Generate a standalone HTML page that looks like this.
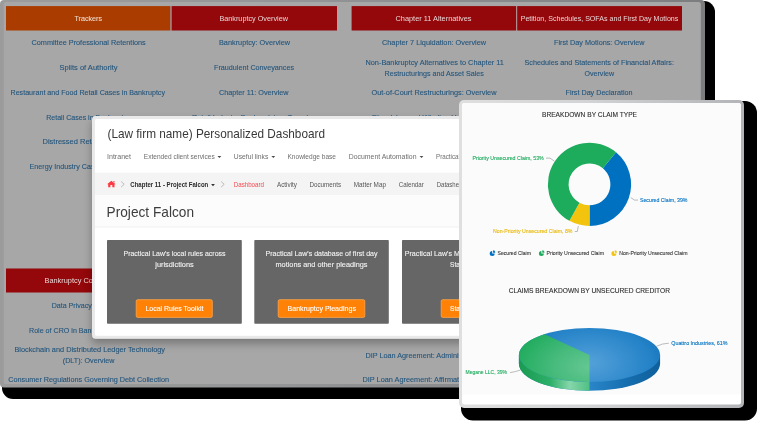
<!DOCTYPE html>
<html lang="en">
<head>
<meta charset="utf-8">
<title>Personalized Dashboard</title>
<style>
html,body{margin:0;padding:0;background:#fff;}
body{width:768px;height:432px;position:relative;overflow:hidden;font-family:"Liberation Sans", sans-serif;}
.layer{position:absolute;left:0;top:0;width:768px;height:432px;overflow:hidden;}
.layer svg{position:absolute;left:0;top:0;overflow:visible;font-family:"Liberation Sans", sans-serif;will-change:transform;}
svg text{white-space:pre;}
</style>
</head>
<body>
<!-- ============ back panel : practice-area resource tables ============ -->
<div class="layer" id="resources">
<svg width="768" height="432" viewBox="0 0 768 432">
<defs><linearGradient id="bkBorder" x1="0" y1="0" x2="1" y2="0">
<stop offset="0" stop-color="#9b9b9b"/><stop offset="0.4" stop-color="#949596"/><stop offset="1" stop-color="#7b7d7e"/></linearGradient></defs>
<rect x="2.00" y="1.00" width="713.00" height="398.00" rx="11" fill="#000"/>
<rect x="0.00" y="0.00" width="705.00" height="387.50" rx="4" fill="url(#bkBorder)"/>
<rect x="3.70" y="2.00" width="697.10" height="382.00" rx="2" fill="#a7a7a7"/>
<rect x="6.00" y="6.10" width="164.20" height="24.40" fill="#aa3c00"/>
<rect x="170.20" y="6.10" width="1.60" height="24.40" fill="#a9746a"/>
<rect x="171.80" y="6.10" width="165.20" height="24.40" fill="#94070a"/>
<rect x="351.60" y="6.10" width="164.40" height="24.40" fill="#94070a"/>
<rect x="516.00" y="6.10" width="1.20" height="24.40" fill="#b08c8c"/>
<rect x="517.20" y="6.10" width="164.80" height="24.40" fill="#94070a"/>
<rect x="6.00" y="268.50" width="165.00" height="24.00" fill="#94070a"/>
<rect x="171.80" y="268.50" width="165.20" height="24.00" fill="#94070a"/>
<rect x="351.60" y="268.50" width="164.40" height="24.00" fill="#94070a"/>
<text x="74.50" y="20.58" font-size="8" fill="#ecd8c8" font-weight="400" textLength="27.50" lengthAdjust="spacingAndGlyphs" stroke="#ecd8c8" stroke-width="0.1">Trackers</text>
<text x="219.40" y="20.58" font-size="8" fill="#e9d6d6" font-weight="400" textLength="68.60" lengthAdjust="spacingAndGlyphs">Bankruptcy Overview</text>
<text x="395.50" y="20.58" font-size="8" fill="#e9d6d6" font-weight="400" textLength="76.00" lengthAdjust="spacingAndGlyphs">Chapter 11 Alternatives</text>
<text x="520.70" y="20.58" font-size="8" fill="#e9d6d6" font-weight="400" textLength="157.60" lengthAdjust="spacingAndGlyphs">Petition, Schedules, SOFAs and First Day Motions</text>
<text x="31.50" y="45.38" font-size="8" fill="#22557c" font-weight="400" textLength="114.25" lengthAdjust="spacingAndGlyphs" stroke="#22557c" stroke-width="0.1">Committee Professional Retentions</text>
<text x="59.50" y="70.38" font-size="8" fill="#22557c" font-weight="400" textLength="58.00" lengthAdjust="spacingAndGlyphs" stroke="#22557c" stroke-width="0.1">Splits of Authority</text>
<text x="10.50" y="94.88" font-size="8" fill="#22557c" font-weight="400" textLength="154.50" lengthAdjust="spacingAndGlyphs" stroke="#22557c" stroke-width="0.1">Restaurant and Food Retail Cases in Bankruptcy</text>
<text x="46.25" y="119.63" font-size="8" fill="#22557c" font-weight="400" textLength="84.50" lengthAdjust="spacingAndGlyphs" stroke="#22557c" stroke-width="0.1">Retail Cases in Bankruptcy</text>
<text x="42.50" y="144.13" font-size="8" fill="#22557c" font-weight="400" textLength="92.00" lengthAdjust="spacingAndGlyphs" stroke="#22557c" stroke-width="0.1">Distressed Retail: Overview</text>
<text x="29.50" y="169.13" font-size="8" fill="#22557c" font-weight="400" textLength="118.00" lengthAdjust="spacingAndGlyphs" stroke="#22557c" stroke-width="0.1">Energy Industry Cases in Bankruptcy</text>
<text x="219.00" y="45.38" font-size="8" fill="#22557c" font-weight="400" textLength="71.00" lengthAdjust="spacingAndGlyphs" stroke="#22557c" stroke-width="0.1">Bankruptcy: Overview</text>
<text x="214.00" y="70.38" font-size="8" fill="#22557c" font-weight="400" textLength="80.00" lengthAdjust="spacingAndGlyphs" stroke="#22557c" stroke-width="0.1">Fraudulent Conveyances</text>
<text x="219.00" y="94.88" font-size="8" fill="#22557c" font-weight="400" textLength="69.50" lengthAdjust="spacingAndGlyphs" stroke="#22557c" stroke-width="0.1">Chapter 11: Overview</text>
<text x="192.00" y="119.63" font-size="8" fill="#22557c" font-weight="400" textLength="125.50" lengthAdjust="spacingAndGlyphs" stroke="#22557c" stroke-width="0.1">Retail Industry Bankruptcies: Overview</text>
<text x="382.00" y="45.38" font-size="8" fill="#22557c" font-weight="400" textLength="104.00" lengthAdjust="spacingAndGlyphs" stroke="#22557c" stroke-width="0.1">Chapter 7 Liquidation: Overview</text>
<text x="365.50" y="65.08" font-size="8" fill="#22557c" font-weight="400" textLength="138.30" lengthAdjust="spacingAndGlyphs" stroke="#22557c" stroke-width="0.1">Non-Bankruptcy Alternatives to Chapter 11</text>
<text x="384.50" y="75.78" font-size="8" fill="#22557c" font-weight="400" textLength="99.30" lengthAdjust="spacingAndGlyphs" stroke="#22557c" stroke-width="0.1">Restructurings and Asset Sales</text>
<text x="371.50" y="94.88" font-size="8" fill="#22557c" font-weight="400" textLength="125.00" lengthAdjust="spacingAndGlyphs" stroke="#22557c" stroke-width="0.1">Out-of-Court Restructurings: Overview</text>
<text x="372.00" y="119.63" font-size="8" fill="#22557c" font-weight="400" textLength="124.00" lengthAdjust="spacingAndGlyphs" stroke="#22557c" stroke-width="0.1">Dissolving and Winding Up: Overview</text>
<text x="554.00" y="45.38" font-size="8" fill="#22557c" font-weight="400" textLength="90.50" lengthAdjust="spacingAndGlyphs" stroke="#22557c" stroke-width="0.1">First Day Motions: Overview</text>
<text x="524.50" y="65.08" font-size="8" fill="#22557c" font-weight="400" textLength="149.50" lengthAdjust="spacingAndGlyphs" stroke="#22557c" stroke-width="0.1">Schedules and Statements of Financial Affairs:</text>
<text x="584.50" y="75.78" font-size="8" fill="#22557c" font-weight="400" textLength="29.50" lengthAdjust="spacingAndGlyphs" stroke="#22557c" stroke-width="0.1">Overview</text>
<text x="565.50" y="94.88" font-size="8" fill="#22557c" font-weight="400" textLength="67.00" lengthAdjust="spacingAndGlyphs" stroke="#22557c" stroke-width="0.1">First Day Declaration</text>
<text x="44.50" y="283.38" font-size="8" fill="#e9d6d6" font-weight="400" textLength="88.00" lengthAdjust="spacingAndGlyphs">Bankruptcy Considerations</text>
<text x="51.70" y="308.38" font-size="8" fill="#22557c" font-weight="400" textLength="73.60" lengthAdjust="spacingAndGlyphs" stroke="#22557c" stroke-width="0.1">Data Privacy: Overview</text>
<text x="29.00" y="332.88" font-size="8" fill="#22557c" font-weight="400" textLength="119.00" lengthAdjust="spacingAndGlyphs" stroke="#22557c" stroke-width="0.1">Role of CRO in Bankruptcy: Overview</text>
<text x="14.40" y="351.88" font-size="8" fill="#22557c" font-weight="400" textLength="150.60" lengthAdjust="spacingAndGlyphs" stroke="#22557c" stroke-width="0.1">Blockchain and Distributed Ledger Technology</text>
<text x="62.80" y="363.38" font-size="8" fill="#22557c" font-weight="400" textLength="51.60" lengthAdjust="spacingAndGlyphs" stroke="#22557c" stroke-width="0.1">(DLT): Overview</text>
<text x="8.30" y="382.18" font-size="8" fill="#22557c" font-weight="400" textLength="160.70" lengthAdjust="spacingAndGlyphs" stroke="#22557c" stroke-width="0.1">Consumer Regulations Governing Debt Collection</text>
<text x="365.50" y="358.13" font-size="8" fill="#22557c" font-weight="400" textLength="137.00" lengthAdjust="spacingAndGlyphs" stroke="#22557c" stroke-width="0.1">DIP Loan Agreement: Administrative Agent</text>
<text x="362.50" y="382.38" font-size="8" fill="#22557c" font-weight="400" textLength="143.00" lengthAdjust="spacingAndGlyphs" stroke="#22557c" stroke-width="0.1">DIP Loan Agreement: Affirmative Covenants</text>
</svg>
</div>
<!-- ============ middle panel : personalized dashboard ============ -->
<div class="layer" id="dashboard">
<svg width="768" height="432" viewBox="0 0 768 432">
<defs><filter id="dshadow" x="-10%" y="-10%" width="120%" height="130%">
<feGaussianBlur in="SourceAlpha" stdDeviation="4.5"/><feOffset dx="0" dy="4.5"/>
<feComponentTransfer><feFuncA type="linear" slope="0.28"/></feComponentTransfer>
<feMerge><feMergeNode/><feMergeNode in="SourceGraphic"/></feMerge></filter></defs>
<rect x="92.00" y="116.00" width="400.00" height="222.80" rx="4" fill="#e9e9e9" filter="url(#dshadow)"/>
<rect x="95.00" y="119.00" width="397.00" height="216.80" rx="1.5" fill="#fff"/>
<rect x="95.00" y="172.60" width="397.00" height="22.60" fill="#f4f4f4"/>
<rect x="95.00" y="195.20" width="397.00" height="31.40" fill="#fcfcfc"/>
<rect x="95.00" y="226.60" width="397.00" height="0.80" fill="#ececec"/>
<rect x="107.00" y="240.00" width="134.80" height="83.80" rx="0.8" fill="#666666"/>
<rect x="254.30" y="240.00" width="134.50" height="83.80" rx="0.8" fill="#666666"/>
<rect x="402.00" y="240.00" width="134.00" height="83.80" rx="0.8" fill="#666666"/>
<rect x="136.20" y="299.70" width="76.10" height="17.70" rx="1.5" fill="#ff8207" stroke="#ffa54a" stroke-width="0.8"/>
<rect x="278.20" y="299.70" width="86.60" height="17.70" rx="1.5" fill="#ff8207" stroke="#ffa54a" stroke-width="0.8"/>
<rect x="441.20" y="299.70" width="79.80" height="17.70" rx="1.5" fill="#ff8207" stroke="#ffa54a" stroke-width="0.8"/>
<text x="107.50" y="137.86" font-size="12.1" fill="#383838" font-weight="400" textLength="217.50" lengthAdjust="spacingAndGlyphs">(Law firm name) Personalized Dashboard</text>
<text x="107.00" y="158.88" font-size="6.6" fill="#6e6e6e" font-weight="400" textLength="24.00" lengthAdjust="spacingAndGlyphs">Intranet</text>
<text x="143.80" y="158.88" font-size="6.6" fill="#6e6e6e" font-weight="400" textLength="70.90" lengthAdjust="spacingAndGlyphs">Extended client services</text>
<text x="233.75" y="158.88" font-size="6.6" fill="#6e6e6e" font-weight="400" textLength="34.55" lengthAdjust="spacingAndGlyphs">Useful links</text>
<text x="287.50" y="158.88" font-size="6.6" fill="#6e6e6e" font-weight="400" textLength="48.50" lengthAdjust="spacingAndGlyphs">Knowledge base</text>
<text x="348.75" y="158.88" font-size="6.6" fill="#6e6e6e" font-weight="400" textLength="67.75" lengthAdjust="spacingAndGlyphs">Document Automation</text>
<text x="436.00" y="158.88" font-size="6.6" fill="#6e6e6e" font-weight="400" textLength="37.00" lengthAdjust="spacingAndGlyphs">Practical Law</text>
<text x="130.30" y="186.98" font-size="6.6" fill="#2b2b2b" font-weight="700" textLength="78.00" lengthAdjust="spacingAndGlyphs">Chapter 11 - Project Falcon</text>
<text x="233.75" y="186.98" font-size="6.6" fill="#f44a50" font-weight="400" textLength="30.25" lengthAdjust="spacingAndGlyphs">Dashboard</text>
<text x="277.00" y="186.98" font-size="6.6" fill="#555" font-weight="400" textLength="20.00" lengthAdjust="spacingAndGlyphs">Activity</text>
<text x="309.50" y="186.98" font-size="6.6" fill="#555" font-weight="400" textLength="31.50" lengthAdjust="spacingAndGlyphs">Documents</text>
<text x="353.75" y="186.98" font-size="6.6" fill="#555" font-weight="400" textLength="32.25" lengthAdjust="spacingAndGlyphs">Matter Map</text>
<text x="398.75" y="186.98" font-size="6.6" fill="#555" font-weight="400" textLength="25.00" lengthAdjust="spacingAndGlyphs">Calendar</text>
<text x="436.75" y="186.98" font-size="6.6" fill="#555" font-weight="400" textLength="27.25" lengthAdjust="spacingAndGlyphs">Datasheet</text>
<text x="106.60" y="217.25" font-size="14.3" fill="#3d3d3d" font-weight="400" textLength="87.40" lengthAdjust="spacingAndGlyphs">Project Falcon</text>
<text x="123.50" y="256.32" font-size="7" fill="#f4f4f4" font-weight="400" textLength="102.00" lengthAdjust="spacingAndGlyphs" stroke="#f4f4f4" stroke-width="0.1">Practical Law's local rules across</text>
<text x="155.25" y="266.77" font-size="7" fill="#f4f4f4" font-weight="400" textLength="38.50" lengthAdjust="spacingAndGlyphs" stroke="#f4f4f4" stroke-width="0.1">jurisdictions</text>
<text x="265.50" y="256.32" font-size="7" fill="#f4f4f4" font-weight="400" textLength="112.00" lengthAdjust="spacingAndGlyphs" stroke="#f4f4f4" stroke-width="0.1">Practical Law's database of first day</text>
<text x="275.50" y="266.77" font-size="7" fill="#f4f4f4" font-weight="400" textLength="92.00" lengthAdjust="spacingAndGlyphs" stroke="#f4f4f4" stroke-width="0.1">motions and other pleadings</text>
<text x="404.75" y="256.32" font-size="7" fill="#f4f4f4" font-weight="400" textLength="68.65" lengthAdjust="spacingAndGlyphs" stroke="#f4f4f4" stroke-width="0.1">Practical Law's Model</text>
<text x="450.00" y="266.77" font-size="7" fill="#f4f4f4" font-weight="400" textLength="62.00" lengthAdjust="spacingAndGlyphs" stroke="#f4f4f4" stroke-width="0.1">Standard Documents</text>
<text x="145.40" y="311.12" font-size="7" fill="#fff" font-weight="400" textLength="58.00" lengthAdjust="spacingAndGlyphs" stroke="#fff" stroke-width="0.1">Local Rules Toolkit</text>
<text x="287.50" y="311.12" font-size="7" fill="#fff" font-weight="400" textLength="68.50" lengthAdjust="spacingAndGlyphs" stroke="#fff" stroke-width="0.1">Bankruptcy Pleadings</text>
<text x="450.00" y="311.12" font-size="7" fill="#fff" font-weight="400" textLength="62.00" lengthAdjust="spacingAndGlyphs" stroke="#fff" stroke-width="0.1">Standard Documents</text>
<path d="M217.50 156.00h3.8l-1.9 2.1z" fill="#4a4a4a"/>
<path d="M271.40 156.00h3.8l-1.9 2.1z" fill="#4a4a4a"/>
<path d="M419.60 156.00h3.8l-1.9 2.1z" fill="#4a4a4a"/>
<path d="M211.10 184.10h3.8l-1.9 2.1z" fill="#333"/>
<path d="M121.10 181.50l3.1 2.8l-3.1 2.8" fill="none" stroke="#b4b4b4" stroke-width="0.9"/>
<path d="M221.10 181.50l3.1 2.8l-3.1 2.8" fill="none" stroke="#b4b4b4" stroke-width="0.9"/>
<path d="M111.35 180.7 L115.6 184.3 L114.5 184.3 L114.5 187.2 L112.3 187.2 L112.3 185.1 L110.4 185.1 L110.4 187.2 L108.2 187.2 L108.2 184.3 L107.1 184.3 Z M113.4 181.1 h1.1 v1.7 l-1.1 -0.95z" fill="#fb3a44"/>
</svg>
</div>
<!-- ============ front panel : claim charts ============ -->
<div class="layer" id="charts">
<svg width="768" height="432" viewBox="0 0 768 432">
<defs>
<radialGradient id="topB" gradientUnits="userSpaceOnUse" cx="589.5" cy="363" r="79.072" gradientTransform="translate(0 363) scale(1 0.6) translate(0 -363)">
<stop offset="0" stop-color="#54a1d9"/><stop offset="0.4" stop-color="#3b91d0"/><stop offset="0.78" stop-color="#2482c7"/><stop offset="1" stop-color="#1675bc"/></radialGradient>
<radialGradient id="topG" gradientUnits="userSpaceOnUse" cx="589.5" cy="367" r="77.66" gradientTransform="translate(0 367) scale(1 0.6) translate(0 -367)">
<stop offset="0" stop-color="#64c792"/><stop offset="0.45" stop-color="#48bb7d"/><stop offset="0.8" stop-color="#2db168"/><stop offset="1" stop-color="#1fab5d"/></radialGradient>
<linearGradient id="sideB" gradientUnits="userSpaceOnUse" x1="589.5" y1="0" x2="660.1" y2="0">
<stop offset="0" stop-color="#2a86c9"/><stop offset="0.5" stop-color="#166fb0"/><stop offset="1" stop-color="#0f5f9a"/></linearGradient>
<linearGradient id="sideG" gradientUnits="userSpaceOnUse" x1="518.9" y1="0" x2="589.5" y2="0">
<stop offset="0" stop-color="#189a50"/><stop offset="0.45" stop-color="#2fb06a"/><stop offset="0.72" stop-color="#86d6aa"/><stop offset="1" stop-color="#4fc083"/></linearGradient>
<linearGradient id="chBorder" x1="0" y1="0" x2="1" y2="0">
<stop offset="0" stop-color="#dfdfdf"/><stop offset="0.45" stop-color="#d2d3d4"/><stop offset="1" stop-color="#b2b4b7"/></linearGradient>
</defs>
<rect x="461.00" y="101.00" width="296.00" height="319.50" rx="12" fill="#000"/>
<rect x="459.00" y="100.00" width="285.00" height="308.00" rx="5" fill="url(#chBorder)"/>
<rect x="462.00" y="103.00" width="279.00" height="301.60" rx="2.5" fill="#fff"/>
<path d="M464.5 103H738.5A2.5 2.5 0 0 1 741 105.5V394.6H462V105.5A2.5 2.5 0 0 1 464.5 103Z" fill="#fbfbfb"/>
<text x="542.00" y="117.06" font-size="7.4" fill="#2e2e2e" font-weight="400" textLength="95.00" lengthAdjust="spacingAndGlyphs" stroke="#2e2e2e" stroke-width="0.12">BREAKDOWN BY CLAIM TYPE</text>
<text x="508.75" y="293.36" font-size="7.4" fill="#2e2e2e" font-weight="400" textLength="161.25" lengthAdjust="spacingAndGlyphs" stroke="#2e2e2e" stroke-width="0.12">CLAIMS BREAKDOWN BY UNSECURED CREDITOR</text>
<path d="M616.02 152.35A41.6 41.6 0 0 1 589.50 226.00L589.50 205.30A20.9 20.9 0 0 0 602.82 168.30Z" fill="#0071c1"/>
<path d="M589.50 226.00A41.6 41.6 0 0 1 569.46 220.85L579.43 202.71A20.9 20.9 0 0 0 589.50 205.30Z" fill="#f2c40e"/>
<path d="M569.46 220.85A41.6 41.6 0 1 1 616.02 152.35L602.82 168.30A20.9 20.9 0 1 0 579.43 202.71Z" fill="#1dab5c"/>
<text x="472.50" y="160.09" font-size="5.8" fill="#1dab5c" font-weight="400" textLength="71.20" lengthAdjust="spacingAndGlyphs" stroke="#1dab5c" stroke-width="0.12">Priority Unsecured Claim, 53%</text>
<text x="640.00" y="202.09" font-size="5.8" fill="#0071c1" font-weight="400" textLength="47.50" lengthAdjust="spacingAndGlyphs" stroke="#0071c1" stroke-width="0.12">Secured Claim, 39%</text>
<text x="493.00" y="233.39" font-size="5.8" fill="#e9b90a" font-weight="400" textLength="79.50" lengthAdjust="spacingAndGlyphs" stroke="#e9b90a" stroke-width="0.12">Non-Priority Unsecured Claim, 8%</text>
<path d="M546 158.1H550L554.5 161.2" fill="none" stroke="#7a7a7a" stroke-width="0.5"/>
<path d="M630.8 197.6L634.5 200.1H638" fill="none" stroke="#7a7a7a" stroke-width="0.5"/>
<path d="M574.8 231.5H577.3L578.3 226" fill="none" stroke="#7a7a7a" stroke-width="0.5"/>
<path d="M492.20 253.50V251.00A2.5 2.5 0 1 0 494.70 253.50Z" fill="#0071c1"/><path d="M493.05 252.65V250.35A2.3 2.3 0 0 1 495.35 252.65Z" fill="#0071c1"/>
<path d="M541.40 253.50V251.00A2.5 2.5 0 1 0 543.90 253.50Z" fill="#1dab5c"/><path d="M542.25 252.65V250.35A2.3 2.3 0 0 1 544.55 252.65Z" fill="#1dab5c"/>
<path d="M613.90 253.50V251.00A2.5 2.5 0 1 0 616.40 253.50Z" fill="#f2c40e"/><path d="M614.75 252.65V250.35A2.3 2.3 0 0 1 617.05 252.65Z" fill="#f2c40e"/>
<text x="497.50" y="255.09" font-size="5.8" fill="#333" font-weight="400" textLength="33.50" lengthAdjust="spacingAndGlyphs" stroke="#333" stroke-width="0.1">Secured Claim</text>
<text x="546.50" y="255.09" font-size="5.8" fill="#333" font-weight="400" textLength="57.50" lengthAdjust="spacingAndGlyphs" stroke="#333" stroke-width="0.1">Priority Unsecured Claim</text>
<text x="619.25" y="255.09" font-size="5.8" fill="#333" font-weight="400" textLength="68.25" lengthAdjust="spacingAndGlyphs" stroke="#333" stroke-width="0.1">Non-Priority Unsecured Claim</text>
<path d="M518.90 355.00V363.80A70.6 27 0 0 0 660.10 363.80V355.00Z" fill="url(#sideB)"/>
<path d="M518.90 355.00V363.80A70.6 27 0 0 0 589.50 390.80V355Z" fill="url(#sideG)"/>
<ellipse cx="589.5" cy="355" rx="70.6" ry="27" fill="url(#topB)"/>
<path d="M589.5 355L589.50 382.00A70.6 27 0 0 1 544.50 334.20Z" fill="url(#topG)"/>
<text x="465.50" y="374.09" font-size="5.8" fill="#1dab5c" font-weight="400" textLength="41.50" lengthAdjust="spacingAndGlyphs" stroke="#1dab5c" stroke-width="0.12">Megane LLC, 39%</text>
<text x="671.25" y="345.34" font-size="5.8" fill="#0071c1" font-weight="400" textLength="56.25" lengthAdjust="spacingAndGlyphs" stroke="#0071c1" stroke-width="0.12">Quattro Industries, 61%</text>
<path d="M510 372.6Q515 372 520.5 370" fill="none" stroke="#7a7a7a" stroke-width="0.5"/>
<path d="M656.3 346.4Q662 343.4 668.8 343.2" fill="none" stroke="#7a7a7a" stroke-width="0.5"/>
</svg>
</div>
</body>
</html>
